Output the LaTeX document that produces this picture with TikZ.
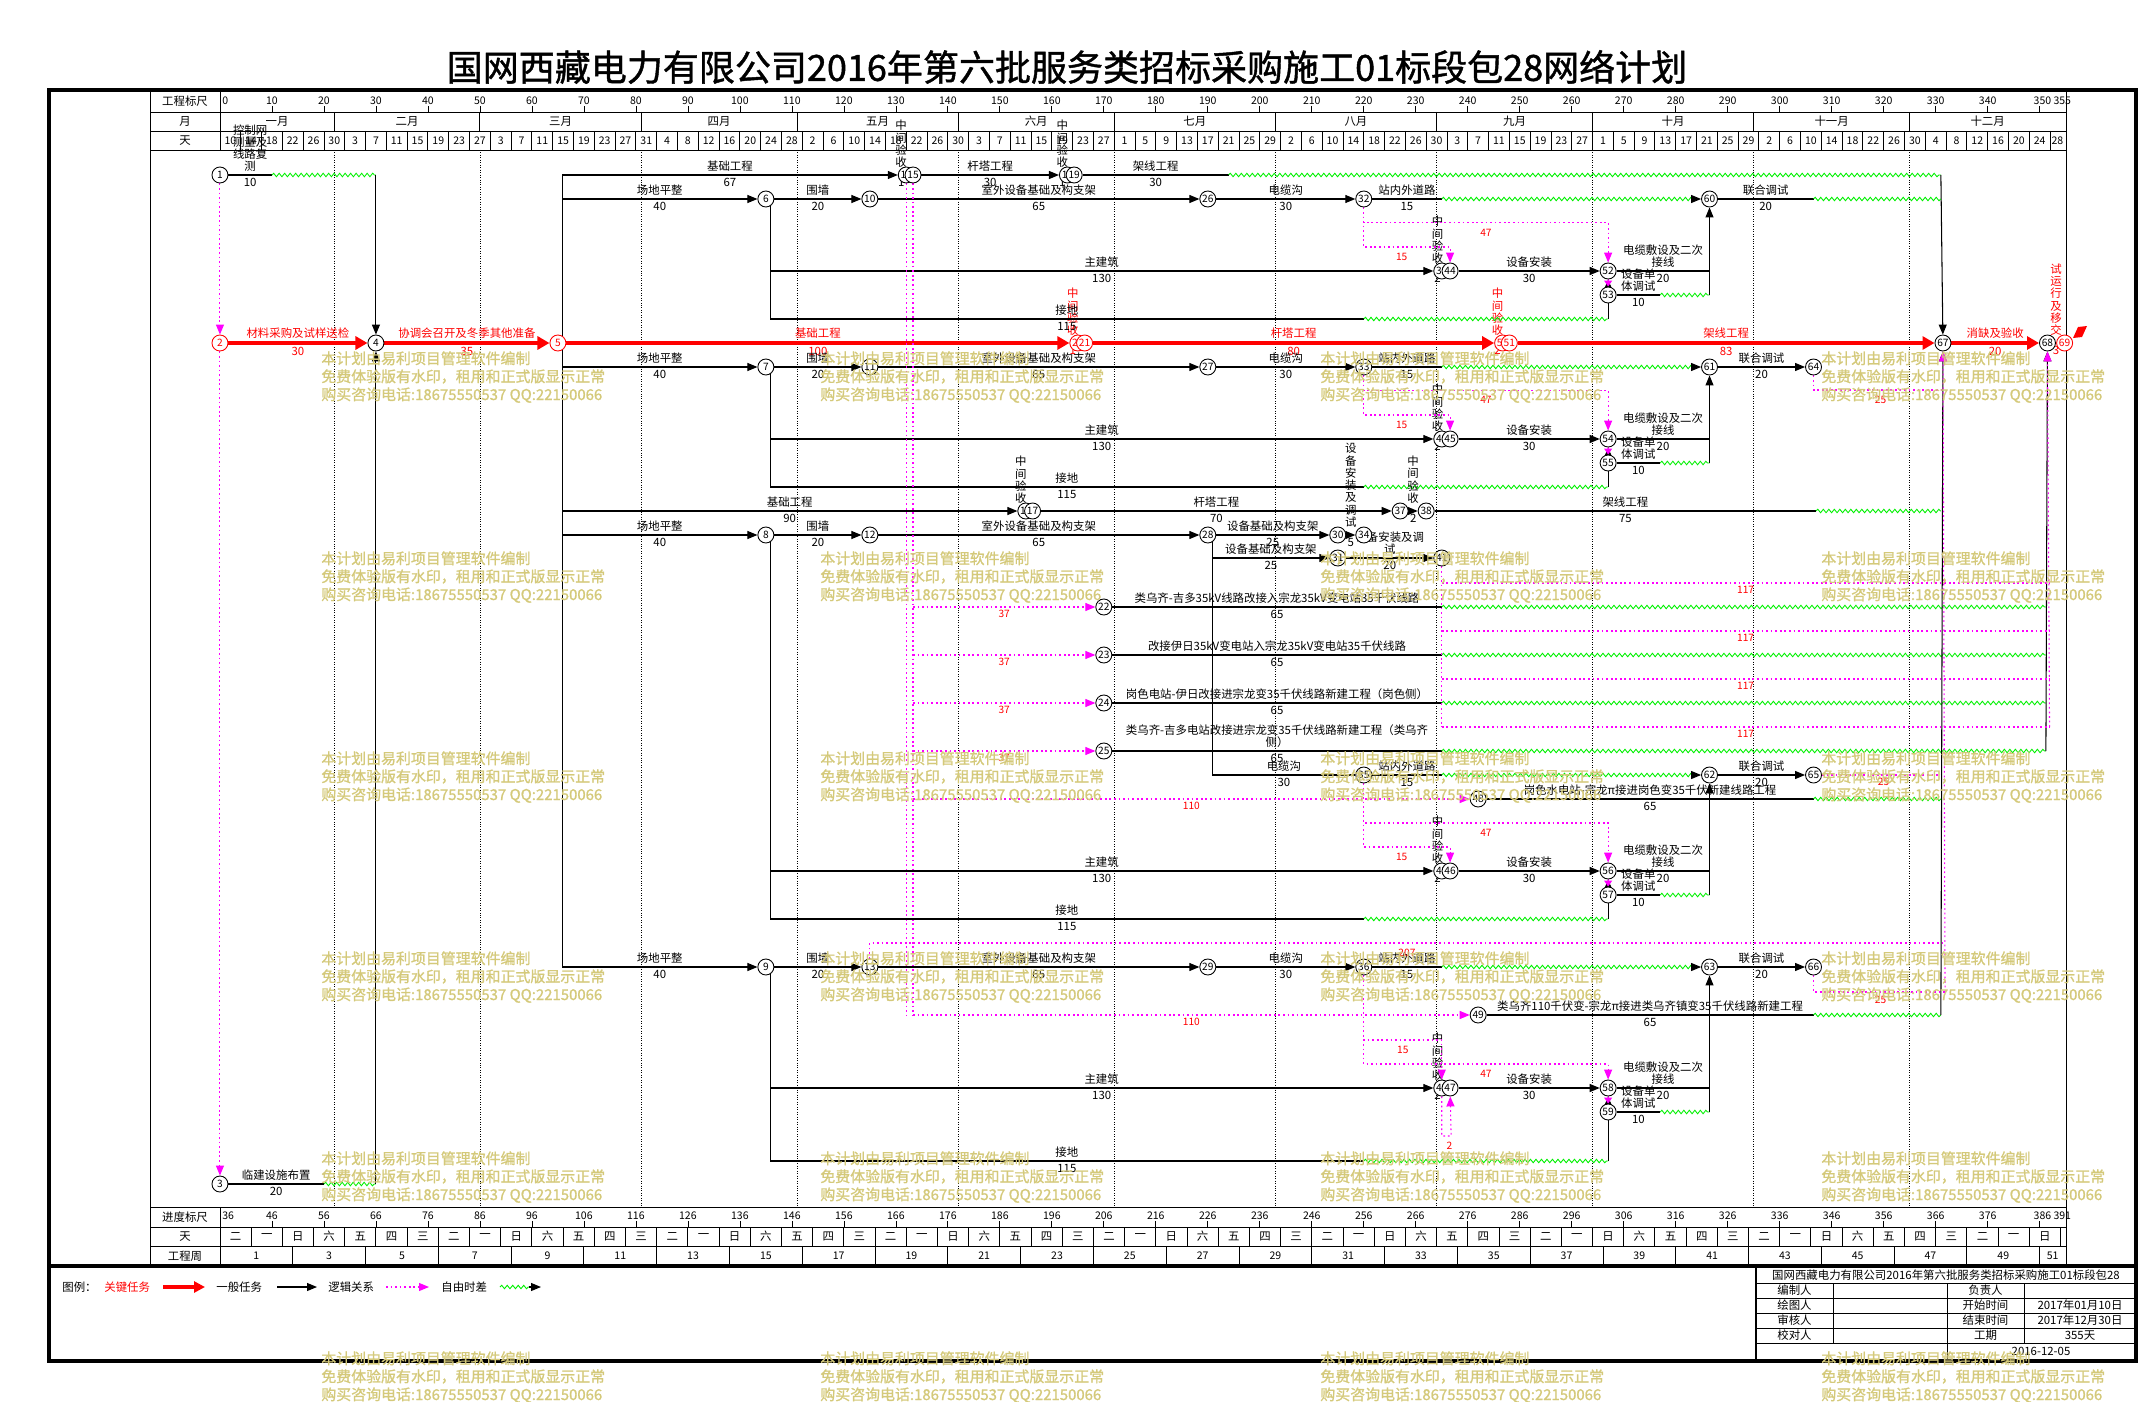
\documentclass[tikz,border=0pt]{standalone}
\usepackage{fontspec}
\setmainfont{Noto Sans CJK SC}
\newfontfamily\titlefont[FakeBold=1.2]{Noto Sans CJK SC}
\newfontfamily\wmfont[FakeBold=1.2]{Noto Sans CJK SC}
\usepackage{xcolor}
\usetikzlibrary{arrows.meta, decorations.pathmorphing, positioning}

\definecolor{wmark}{RGB}{212,201,122}
\definecolor{slackgreen}{RGB}{0,240,0}
\definecolor{logicpink}{RGB}{255,0,255}

\newcommand{\lblfont}{\fontsize{6.5}{7}\selectfont}
\newcommand{\numfont}{\fontsize{6}{6.5}\selectfont}
\newcommand{\wkname}[1]{\ifcase#1 二\or 一\or 日\or 六\or 五\or 四\or 三\fi}

\pgfdeclarelayer{edges}
\pgfsetlayers{edges,main}

\begin{document}
\begin{tikzpicture}[x=0.02cm, y=-0.02cm]
    % Styles
    \tikzstyle{evt} = [circle, draw, fill=white, line width=0.5pt, inner sep=0pt, minimum size=0.32cm, font=\fontsize{5.8}{6}\selectfont]
    \tikzstyle{evtred} = [evt, draw=red, text=red]
    \tikzstyle{plainline} = [line width=0.6pt]
    \tikzstyle{task} = [line width=0.6pt, -{Triangle[length=0.2cm, width=0.16cm]}]
    \tikzstyle{critical} = [red, line width=2.3pt, -{Triangle[length=0.24cm, width=0.26cm]}]
    \tikzstyle{logic} = [logicpink, line width=0.6pt, dash pattern=on 1pt off 1.6pt]
    \tikzstyle{logicarrow} = [logic, -{Triangle[length=0.2cm, width=0.16cm]}]
    \tikzstyle{logicshort} = [logic, -{Triangle[length=0.12cm, width=0.16cm]}]
    \tikzstyle{freefloat} = [slackgreen, line width=0.5pt, decorate, decoration={snake, segment length=0.11cm, amplitude=0.035cm}]
    \tikzstyle{monthline} = [densely dotted, line width=0.4pt]
    \tikzstyle{tname} = [midway, above, inner sep=1.5pt, font=\lblfont]
    \tikzstyle{tdur} = [midway, below, inner sep=1.5pt, font=\lblfont]
    \tikzstyle{ctname} = [tname, text=red]
    \tikzstyle{ctdur} = [tdur, text=red]
    \tikzstyle{tvert} = [midway, above=4pt, inner sep=0pt, align=center, font=\lblfont]
    \tikzstyle{ftag} = [midway, below, inner sep=1.5pt, text=red, font=\fontsize{5.8}{6}\selectfont]
    \tikzstyle{flab} = [inner sep=0pt, text=red, font=\fontsize{5.8}{6}\selectfont]
    \tikzstyle{head} = [inner sep=0pt, font=\lblfont]
    \tikzstyle{headnum} = [inner sep=0pt, font=\numfont]
    \tikzstyle{watermark} = [anchor=north west, align=left, inner sep=0pt, text=wmark, font=\wmfont\fontsize{8.5}{10.25}\selectfont]

    \useasboundingbox (0,0) rectangle (2140,1402);

    % Title
    \node[font=\titlefont\fontsize{20.5}{22}\selectfont, inner sep=0pt] (title) at (1067,67) {国网西藏电力有限公司2016年第六批服务类招标采购施工01标段包28网络计划};

    % Frame and scale grid
    \draw[line width=2.3pt] (49,90) rectangle (2136,1361);
    \draw[line width=1.8pt] (49,1266) -- (2136,1266);
    \draw[line width=0.5pt] (150,90) -- (150,1266) (2066,90) -- (2066,1266)
        (220,90) -- (220,150) (220,1207) -- (220,1266);
    \foreach \y in {112,131,150,1207,1227,1246}
        \draw[line width=0.5pt] (150,\y) -- (2066,\y);
    \node[head] at (185,101.5) {工程标尺};
    \node[head] at (185,121.5) {月};
    \node[head] at (185,141) {天};
    \node[head] at (185,1217) {进度标尺};
    \node[head] at (185,1236.5) {天};
    \node[head] at (185,1256) {工程周};

    \begin{scope}[xshift=4.4cm, x=0.104cm]
    % Top scales
    \foreach \d in {10,20,...,340} {
        \node[headnum] at (\d,101) {\d};
        \draw[line width=0.4pt] (\d,106) -- (\d,112);
    }
    \draw[line width=0.4pt] (350,106) -- (350,112);
    \node[headnum, anchor=west] at (0.4,101) {0};
    \node[headnum, anchor=east] at (352.3,101) {350};
    \node[headnum, anchor=west] at (352.6,101) {355};
    \foreach \m in {22,50,81,111,142,172,203,234,264,295,325}
        \draw[line width=0.5pt] (\m,112) -- (\m,131);
    \foreach \c/\mn in {11/一月,36/二月,65.5/三月,96/四月,126.5/五月,157/六月,187.5/七月,218.5/八月,249/九月,279.5/十月,310/十一月,340/十二月}
        \node[head] at (\c,121.5) {\mn};
    \foreach \i in {1,...,88}
        \draw[line width=0.5pt] ({4*\i},131) -- ({4*\i},150);
    \foreach \dt [count=\i from 0] in {10,14,18,22,26,30,3,7,11,15,19,23,27,3,7,11,15,19,23,27,31,4,8,12,16,20,24,28,2,6,10,14,18,22,26,30,3,7,11,15,19,23,27,1,5,9,13,17,21,25,29,2,6,10,14,18,22,26,30,3,7,11,15,19,23,27,1,5,9,13,17,21,25,29,2,6,10,14,18,22,26,30,4,8,12,16,20,24,28}
        \node[headnum] at ({min(4*\i+2,353.4)},141) {\dt};

    % Bottom scales
    \foreach \d in {10,20,...,340} {
        \pgfmathtruncatemacro{\v}{\d+36}
        \node[headnum] at (\d,1216) {\v};
        \draw[line width=0.4pt] (\d,1221) -- (\d,1227);
    }
    \draw[line width=0.4pt] (350,1221) -- (350,1227);
    \node[headnum, anchor=west] at (0.4,1216) {36};
    \node[headnum, anchor=east] at (352.3,1216) {386};
    \node[headnum, anchor=west] at (352.6,1216) {391};
    \foreach \i in {1,...,59}
        \draw[line width=0.5pt] ({6*\i},1227) -- ({6*\i},1246);
    \foreach \i in {0,...,58} {
        \pgfmathtruncatemacro{\k}{mod(\i,7)}
        \node[head] at ({6*\i+3},1236.5) {\wkname{\k}};
    }
    \foreach \i in {1,...,25}
        \draw[line width=0.5pt] ({14*\i},1246) -- ({14*\i},1266);
    \foreach \i in {0,...,24} {
        \pgfmathtruncatemacro{\w}{2*\i+1}
        \node[headnum] at ({14*\i+7},1256) {\w};
    }
    \node[headnum] at (352.5,1256) {51};

    % Events
    \node[evt] (n1) at (0,175) {1};
    \node[evtred] (n2) at (0,343) {2};
    \node[evt] (n3) at (0,1184) {3};
    \node[evt] (n4) at (30,343) {4};
    \node[evtred] (n5) at (65,343) {5};
    \node[evt] (n6) at (105,199) {6};
    \node[evt] (n7) at (105,367) {7};
    \node[evt] (n8) at (105,535) {8};
    \node[evt] (n9) at (105,967) {9};
    \node[evt] (n10) at (125,199) {10};
    \node[evt] (n11) at (125,367) {11};
    \node[evt] (n12) at (125,535) {12};
    \node[evt] (n13) at (125,967) {13};
    \node[evt] (n14) at (132,175) {14};
    \node[evt] (n15) at (133.3,175) {15};
    \node[evt] (n16) at (155,511) {16};
    \node[evt] (n17) at (156.3,511) {17};
    \node[evt] (n18) at (163,175) {18};
    \node[evt] (n19) at (164.3,175) {19};
    \node[evtred] (n20) at (165,343) {20};
    \node[evtred] (n21) at (166.3,343) {21};
    \node[evt] (n22) at (170,607) {22};
    \node[evt] (n23) at (170,655) {23};
    \node[evt] (n24) at (170,703) {24};
    \node[evt] (n25) at (170,751) {25};
    \node[evt] (n26) at (190,199) {26};
    \node[evt] (n27) at (190,367) {27};
    \node[evt] (n28) at (190,535) {28};
    \node[evt] (n29) at (190,967) {29};
    \node[evt] (n30) at (215,535) {30};
    \node[evt] (n31) at (215,558) {31};
    \node[evt] (n32) at (220,199) {32};
    \node[evt] (n33) at (220,367) {33};
    \node[evt] (n34) at (220,535) {34};
    \node[evt] (n35) at (220,775) {35};
    \node[evt] (n36) at (220,967) {36};
    \node[evt] (n37) at (227,511) {37};
    \node[evt] (n38) at (232,511) {38};
    \node[evt] (n39) at (235,271) {39};
    \node[evt] (n40) at (235,439) {40};
    \node[evt] (n41) at (235,558) {41};
    \node[evt] (n42) at (235,871) {42};
    \node[evt] (n43) at (235,1088) {43};
    \node[evt] (n44) at (236.6,271) {44};
    \node[evt] (n45) at (236.6,439) {45};
    \node[evt] (n46) at (236.6,871) {46};
    \node[evt] (n47) at (236.6,1088) {47};
    \node[evt] (n48) at (242,799) {48};
    \node[evt] (n49) at (242,1015) {49};
    \node[evtred] (n50) at (246.7,343) {50};
    \node[evtred] (n51) at (248,343) {51};
    \node[evt] (n52) at (267,271) {52};
    \node[evt] (n53) at (267,295) {53};
    \node[evt] (n54) at (267,439) {54};
    \node[evt] (n55) at (267,463) {55};
    \node[evt] (n56) at (267,871) {56};
    \node[evt] (n57) at (267,895) {57};
    \node[evt] (n58) at (267,1088) {58};
    \node[evt] (n59) at (267,1112) {59};
    \node[evt] (n60) at (286.5,199) {60};
    \node[evt] (n61) at (286.5,367) {61};
    \node[evt] (n62) at (286.5,775) {62};
    \node[evt] (n63) at (286.5,967) {63};
    \node[evt] (n64) at (306.5,367) {64};
    \node[evt] (n65) at (306.5,775) {65};
    \node[evt] (n66) at (306.5,967) {66};
    \node[evt] (n67) at (331.4,343) {67};
    \node[evt] (n68) at (351.5,343) {68};
    \node[evtred] (n69) at (354.8,343) {69};

    \begin{pgfonlayer}{edges}
    % Month grid
    \foreach \m in {22,50,81,111,142,172,203,234,264,295,325}
        \draw[monthline] (\m,150) -- (\m,1207);

    % Start
    \draw[logicarrow] (n1) -- (n2);
    \draw[logicarrow] (n2) -- (n3);
    \draw[plainline] (n1) -- node[tname, align=center] {控制网\\测量及\\线路复\\测} node[tdur] {10} (10,175);
    \draw[freefloat] (10,175) -- (30,175);
    \draw[task] (30,175) -- (n4);
    \draw[plainline] (n3) -- node[tname] {临建设施布置} node[tdur] {20} (20,1184);
    \draw[freefloat] (20,1184) -- (30,1184);
    \draw[task] (30,1184) -- (n4);

    % Critical path
    \draw[critical] (n2) -- node[ctname] {材料采购及试样送检} node[ctdur] {30} (n4);
    \draw[critical] (n4) -- node[ctname] {协调会召开及冬季其他准备} node[ctdur] {35} (n5);
    \draw[critical] (n5) -- node[ctname] {基础工程} node[ctdur] {100} (n20);
    \path (n20) -- node[tvert, text=red] {中\\间\\验\\收} node[ctdur] {1} (n21);
    \draw[critical] (n21) -- node[ctname] {杆塔工程} node[ctdur] {80} (n50);
    \path (n50) -- node[tvert, text=red] {中\\间\\验\\收} node[ctdur] {2} (n51);
    \draw[critical] (n51) -- node[ctname] {架线工程} node[ctdur] {83} (n67);
    \draw[critical] (n67) -- node[ctname] {消缺及验收} node[ctdur] {20} (n68);
    \path (n68) -- node[tvert, text=red] {试\\运\\行\\及\\移\\交} node[ctdur] {3} (n69);

    % Branches from event 5
    \draw[plainline] (65.8,175) -- (65.8,967);
    \draw[task] (65.8,175) -- node[tname] {基础工程} node[tdur] {67} (n14);
    \draw[task] (65.8,199) -- node[tname] {场地平整} node[tdur] {40} (n6);
    \draw[task] (65.8,367) -- node[tname] {场地平整} node[tdur] {40} (n7);
    \draw[task] (65.8,511) -- node[tname] {基础工程} node[tdur] {90} (n16);
    \draw[task] (65.8,535) -- node[tname] {场地平整} node[tdur] {40} (n8);
    \draw[task] (65.8,967) -- node[tname] {场地平整} node[tdur] {40} (n9);

    % Top line
    \path (n14) -- node[tvert] {中\\间\\验\\收} node[tdur] {1} (n15);
    \draw[task] (n15) -- node[tname] {杆塔工程} node[tdur] {30} (n18);
    \path (n18) -- node[tvert] {中\\间\\验\\收} node[tdur] {1} (n19);
    \draw[plainline] (n19) -- node[tname] {架线工程} node[tdur] {30} (194,175);
    \draw[freefloat] (194,175) -- (331,175);
    \draw[task] (331,175) -- (n67);

    % Group A
    \draw[task] (n6) -- node[tname] {围墙} node[tdur] {20} (n10);
    \draw[task] (n10) -- node[tname] {室外设备基础及构支架} node[tdur] {65} (n26);
    \draw[task] (n26) -- node[tname] {电缆沟} node[tdur] {30} (n32);
    \draw[plainline] (n32) -- node[tname] {站内外道路} node[tdur] {15} (235,199);
    \draw[freefloat] (235,199) -- (284,199);
    \draw[task] (284,199) -- (n60);
    \draw[plainline] (n60) -- node[tname] {联合调试} node[tdur] {20} (306.5,199);
    \draw[freefloat] (306.5,199) -- (331,199);
    \draw[plainline] (105.8,199) -- (105.8,319);
    \draw[task] (105.8,271) -- node[tname] {主建筑} node[tdur] {130} (n39);
    \draw[plainline] (105.8,319) -- node[tname] {接地} node[tdur] {115} (220,319);
    \draw[freefloat] (220,319) -- (267,319);
    \draw[task] (267,319) -- (n52);
    \path (n39) -- node[tvert] {中\\间\\验\\收} node[tdur] {2} (n44);
    \draw[task] (n44) -- node[tname] {设备安装} node[tdur] {30} (n52);
    \draw[plainline] (n52) -- node[tname, align=center] {电缆敷设及二次\\接线} node[tdur] {20} (286.5,271);
    \draw[logicshort] (n52) -- (n53);
    \draw[plainline] (n53) -- node[tname, align=center] {设备单\\体调试} node[tdur] {10} (277,295);
    \draw[freefloat] (277,295) -- (286.5,295);
    \draw[task] (286.5,295) -- (n60);
    \draw[logicarrow] (n32) |- (267,222.7) -- (n52);
    \draw[logicarrow] (n32) |- (236.6,247) -- (n44);
    \node[flab] at (243.5,233) {47};
    \node[flab] at (227.3,257) {15};

    % Group B
    \draw[task] (n7) -- node[tname] {围墙} node[tdur] {20} (n11);
    \draw[task] (n11) -- node[tname] {室外设备基础及构支架} node[tdur] {65} (n27);
    \draw[task] (n27) -- node[tname] {电缆沟} node[tdur] {30} (n33);
    \draw[plainline] (n33) -- node[tname] {站内外道路} node[tdur] {15} (235,367);
    \draw[freefloat] (235,367) -- (284,367);
    \draw[task] (284,367) -- (n61);
    \draw[task] (n61) -- node[tname] {联合调试} node[tdur] {20} (n64);
    \draw[plainline] (105.8,367) -- (105.8,487);
    \draw[task] (105.8,439) -- node[tname] {主建筑} node[tdur] {130} (n40);
    \draw[plainline] (105.8,487) -- node[tname] {接地} node[tdur] {115} (220,487);
    \draw[freefloat] (220,487) -- (267,487);
    \draw[task] (267,487) -- (n54);
    \path (n40) -- node[tvert] {中\\间\\验\\收} node[tdur] {2} (n45);
    \draw[task] (n45) -- node[tname] {设备安装} node[tdur] {30} (n54);
    \draw[plainline] (n54) -- node[tname, align=center] {电缆敷设及二次\\接线} node[tdur] {20} (286.5,439);
    \draw[logicshort] (n54) -- (n55);
    \draw[plainline] (n55) -- node[tname, align=center] {设备单\\体调试} node[tdur] {10} (277,463);
    \draw[freefloat] (277,463) -- (286.5,463);
    \draw[task] (286.5,463) -- (n61);
    \draw[logicarrow] (n33) |- (267,390.7) -- (n54);
    \draw[logicarrow] (n33) |- (236.6,415) -- (n45);
    \node[flab] at (243.5,400) {47};
    \node[flab] at (227.3,425) {15};
    \draw[logic] (n64) |- (331.8,390);
    \node[flab] at (319.4,400) {25};

    % Group C
    \path (n16) -- node[tvert] {中\\间\\验\\收} (n17);
    \draw[task] (n17) -- node[tname] {杆塔工程} node[tdur] {70} (n37);
    \draw[task] (n37) -- node[tvert] {中\\间\\验\\收} node[tdur] {2} (n38);
    \draw[plainline] (n38) -- node[tname] {架线工程} node[tdur] {75} (307,511);
    \draw[freefloat] (307,511) -- (331,511);
    \draw[task] (n8) -- node[tname] {围墙} node[tdur] {20} (n12);
    \draw[task] (n12) -- node[tname] {室外设备基础及构支架} node[tdur] {65} (n28);
    \draw[task] (n28) -- node[tname] {设备基础及构支架} node[tdur] {25} (n30);
    \draw[plainline] (190.9,535) -- (190.9,775);
    \draw[task] (190.9,558) -- node[tname] {设备基础及构支架} node[tdur] {25} (n31);
    \draw[task] (n30) -- node[tvert] {设\\备\\安\\装\\及\\调\\试} node[tdur] {5} (n34);
    \draw[task] (n31) -- node[tname, align=center] {设备安装及调\\试} node[tdur] {20} (n41);

    % Lines 22 - 25
    \draw[logic] (n14) -- (132,1015);
    \draw[logic] (n15) -- (133.3,1015);
    \foreach \k/\y in {22/607,23/655,24/703,25/751}
        \draw[logicarrow] (133.3,\y) -- node[ftag] {37} (n\k);
    \draw[plainline] (n22) -- node[tname] {类乌齐-吉多35kV线路改接入宗龙35kV变电站35千伏线路} node[tdur] {65} (235,607);
    \draw[plainline] (n23) -- node[tname] {改接伊日35kV变电站入宗龙35kV变电站35千伏线路} node[tdur] {65} (235,655);
    \draw[plainline] (n24) -- node[tname] {岗色电站-伊日改接进宗龙变35千伏线路新建工程（岗色侧）} node[tdur] {65} (235,703);
    \draw[plainline] (n25) -- node[tname, align=center] {类乌齐-吉多电站改接进宗龙变35千伏线路新建工程（类乌齐\\侧）} node[tdur] {65} (235,751);
    \foreach \y in {607,655,703,751}
        \draw[freefloat] (235,\y) -- (351.2,\y);
    \draw[task] (351.2,751) -- (n68);
    \draw[logic] (n41) -- (235,727);
    \foreach \y in {583,631,679,727}
        \draw[logic] (235,\y) -- node[ftag] {117} (351.9,\y);
    \draw[logicarrow] (351.9,727) -- (n68);

    % Group D
    \draw[plainline] (190.9,775) -- node[tname] {电缆沟} node[tdur] {30} (n35);
    \draw[plainline] (n35) -- node[tname] {站内外道路} node[tdur] {15} (235,775);
    \draw[freefloat] (235,775) -- (284,775);
    \draw[task] (284,775) -- (n62);
    \draw[task] (n62) -- node[tname] {联合调试} node[tdur] {20} (n65);
    \draw[logic] (n65) -- node[ftag] {25} (331.8,775);
    \draw[logicarrow] (133.3,799) -- node[ftag] {110} (n48);
    \draw[plainline] (n48) -- node[tname] {岗色水电站-宗龙π接进岗色变35千伏新建线路工程} node[tdur] {65} (306.5,799);
    \draw[freefloat] (306.5,799) -- (331,799);
    \draw[plainline] (105.8,535) -- (105.8,919);
    \draw[task] (105.8,871) -- node[tname] {主建筑} node[tdur] {130} (n42);
    \draw[plainline] (105.8,919) -- node[tname] {接地} node[tdur] {115} (220,919);
    \draw[freefloat] (220,919) -- (267,919);
    \draw[task] (267,919) -- (n56);
    \path (n42) -- node[tvert] {中\\间\\验\\收} node[tdur] {2} (n46);
    \draw[task] (n46) -- node[tname] {设备安装} node[tdur] {30} (n56);
    \draw[plainline] (n56) -- node[tname, align=center] {电缆敷设及二次\\接线} node[tdur] {20} (286.5,871);
    \draw[logicshort] (n56) -- (n57);
    \draw[plainline] (n57) -- node[tname, align=center] {设备单\\体调试} node[tdur] {10} (277,895);
    \draw[freefloat] (277,895) -- (286.5,895);
    \draw[task] (286.5,895) -- (n62);
    \draw[logicarrow] (n35) |- (267,823) -- (n56);
    \draw[logicarrow] (n35) |- (236.6,847) -- (n46);
    \node[flab] at (243.5,833) {47};
    \node[flab] at (227.3,857) {15};

    % Group E
    \draw[task] (n9) -- node[tname] {围墙} node[tdur] {20} (n13);
    \draw[task] (n13) -- node[tname] {室外设备基础及构支架} node[tdur] {65} (n29);
    \draw[task] (n29) -- node[tname] {电缆沟} node[tdur] {30} (n36);
    \draw[plainline] (n36) -- node[tname] {站内外道路} node[tdur] {15} (235,967);
    \draw[freefloat] (235,967) -- (284,967);
    \draw[task] (284,967) -- (n63);
    \draw[task] (n63) -- node[tname] {联合调试} node[tdur] {20} (n66);
    \draw[logic] (n66) |- (331.8,992);
    \node[flab] at (319.4,1000) {25};
    \draw[logic] (n13) |- (331.8,943);
    \node[flab] at (228.3,953) {207};
    \draw[logicarrow] (133.3,1015) -- node[ftag] {110} (n49);
    \draw[plainline] (n49) -- node[tname] {类乌齐110千伏变-宗龙π接进类乌齐镇变35千伏线路新建工程} node[tdur] {65} (306.5,1015);
    \draw[freefloat] (306.5,1015) -- (331,1015);
    \draw[task] (331,1015) -- (n67);
    \draw[logicarrow] (331.8,992) -- (n67);
    \draw[plainline] (105.8,967) -- (105.8,1161);
    \draw[task] (105.8,1088) -- node[tname] {主建筑} node[tdur] {130} (n43);
    \draw[plainline] (105.8,1161) -- node[tname] {接地} node[tdur] {115} (220,1161);
    \draw[freefloat] (220,1161) -- (267,1161);
    \draw[task] (267,1161) -- (n58);
    \path (n43) -- node[tvert] {中\\间\\验\\收} node[tdur] {2} (n47);
    \draw[task] (n47) -- node[tname] {设备安装} node[tdur] {30} (n58);
    \draw[plainline] (n58) -- node[tname, align=center] {电缆敷设及二次\\接线} node[tdur] {20} (286.5,1088);
    \draw[logicshort] (n58) -- (n59);
    \draw[plainline] (n59) -- node[tname, align=center] {设备单\\体调试} node[tdur] {10} (277,1112);
    \draw[freefloat] (277,1112) -- (286.5,1112);
    \draw[task] (286.5,1112) -- (n63);
    \draw[logicarrow] (n36) |- (235,1040) -- (n43);
    \draw[logicarrow] (n36) |- (267,1064) -- (n58);
    \draw[logicarrow] (n43) |- (236.8,1136) -- (n47);
    \node[flab] at (227.5,1050) {15};
    \node[flab] at (243.5,1074) {47};
    \node[flab] at (236.5,1146) {2};
    \end{pgfonlayer}
    \end{scope}

    % End flag
    \fill[red] (2073,338) -- (2078,327) -- (2087,326) -- (2082,337) -- cycle;

    % Legend
    \node[head, anchor=west] (legend) at (62,1287) {图例：};
    \node[head, anchor=west, text=red] (lgcrit) at (104,1287) {关键任务};
    \draw[red, line width=2.3pt, -{Triangle[length=0.22cm, width=0.22cm]}] (163,1287) -- (205,1287);
    \node[head, anchor=west] (lgtask) at (216,1287) {一般任务};
    \draw[task] (277,1287) -- (317,1287);
    \node[head, anchor=west] (lglogic) at (328,1287) {逻辑关系};
    \draw[logicarrow] (386,1287) -- (429,1287);
    \node[head, anchor=west] (lgfloat) at (441,1287) {自由时差};
    \draw[freefloat] (500,1287) -- (529,1287);
    \draw[task] (529,1287) -- (541,1287);

    % Title block
    \draw[line width=1.2pt] (1756,1266) -- (1756,1361);
    \foreach \y in {1283,1298,1313,1328,1343}
        \draw[line width=0.5pt] (1756,\y) -- (2136,\y);
    \draw[line width=0.5pt] (1833,1283) -- (1833,1343) (1947,1283) -- (1947,1361) (2024,1283) -- (2024,1343);
    \node[head] at (1946,1275) {国网西藏电力有限公司2016年第六批服务类招标采购施工01标段包28};
    \node[head] at (1794.5,1290.5) {编制人};
    \node[head] at (1794.5,1305.5) {绘图人};
    \node[head] at (1794.5,1320.5) {审核人};
    \node[head] at (1794.5,1335.5) {校对人};
    \node[head] at (1985.5,1290.5) {负责人};
    \node[head] at (1985.5,1305.5) {开始时间};
    \node[head] at (1985.5,1320.5) {结束时间};
    \node[head] at (1985.5,1335.5) {工期};
    \node[head] at (2080,1305.5) {2017年01月10日};
    \node[head] at (2080,1320.5) {2017年12月30日};
    \node[head] at (2080,1335.5) {355天};
    \node[head] at (2041,1351) {2016-12-05};

    % Watermarks
    \foreach \wx in {321,820,1320,1821}
        \foreach \wy in {351,551,751,951,1151,1351}
            \node[watermark] at (\wx,\wy) {本计划由易利项目管理软件编制\\免费体验版有水印，租用和正式版显示正常\\购买咨询电话:18675550537 QQ:22150066};
\end{tikzpicture}
\end{document}
